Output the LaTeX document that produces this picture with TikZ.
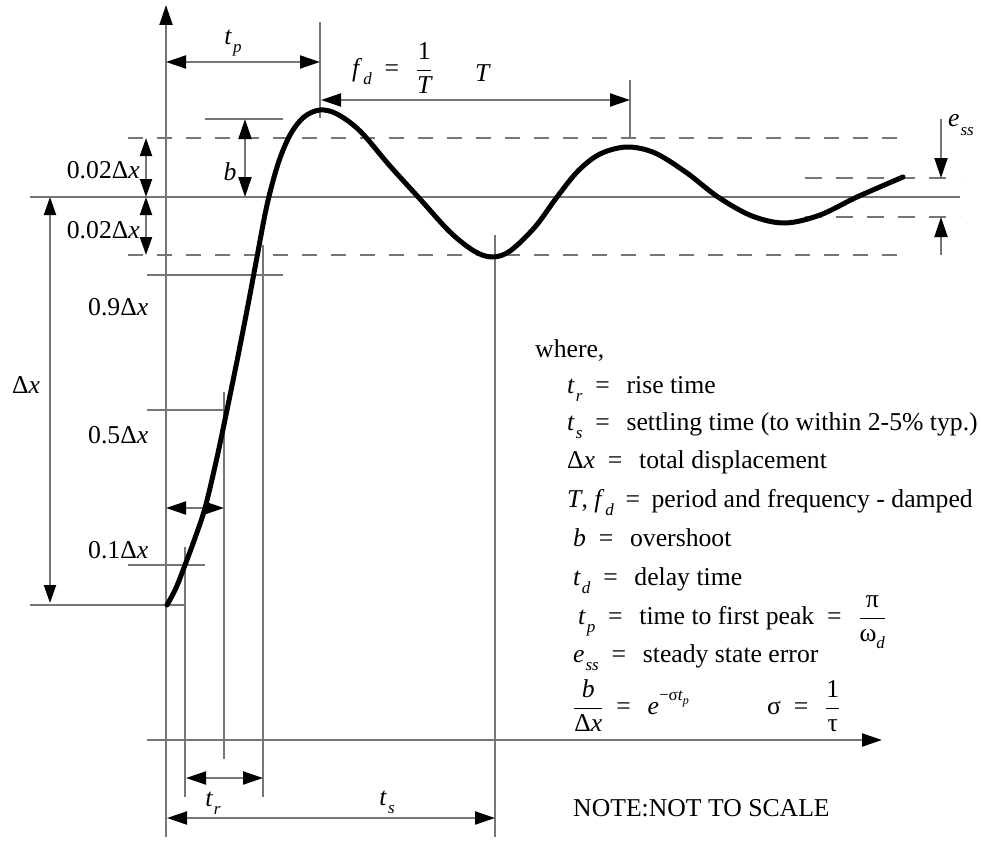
\documentclass[tikz,border=0pt]{standalone}
\usepackage{fontspec}
\setmainfont{Liberation Serif}
\usetikzlibrary{arrows.meta}
\definecolor{ln}{RGB}{118,118,118}
\newcommand\sbi[2]{\textit{#1}\kern1pt\raisebox{-0.32em}{\fontsize{17}{17}\selectfont\textit{#2}}}
\newcommand\eqs{\hspace{0.5em}=\hspace{0.65em}}
\newcommand\tfr[2]{$\displaystyle\frac{\mbox{#1}}{\mbox{#2}}$}
\begin{document}
\begin{tikzpicture}[x=1pt,y=-1pt,
  >={Triangle[length=20pt,width=13pt,color=black]},
  gl/.style={draw=ln,line width=2pt},
  dl/.style={draw=ln,line width=2.4pt,dash pattern=on 15pt off 14pt},
  txt/.style={inner sep=0pt,font=\fontsize{25.7}{30}\selectfont},
  curve/.style={line width=5pt,line cap=round,line join=round}]
\useasboundingbox (0,0) rectangle (981,840);
% reference lines
\draw[gl] (30,197) -- (960,197);
\draw[dl] (128,138) -- (902,138);
\draw[dl] (128,255) -- (902,255);
\draw[dl,dash pattern=on 17pt off 14pt] (805,178) -- (960,178);
\draw[dl,dash pattern=on 17pt off 14pt] (805,217) -- (960,217);
% axes
\draw[gl,->] (166,837) -- (166,5);
\draw[gl,->] (147,740) -- (882,740);
% extension lines
\draw[gl] (185,547) -- (185,797);
\draw[gl] (224,392) -- (224,759);
\draw[gl] (263,245) -- (263,797);
\draw[gl] (495,235) -- (495,837);
\draw[gl] (320,22) -- (320,118);
\draw[gl] (630,80) -- (630,138);
\draw[gl] (205,119) -- (283,119);
\draw[gl] (147,275) -- (283,275);
\draw[gl] (147,410) -- (225,410);
\draw[gl] (128,565) -- (205,565);
\draw[gl] (30,605) -- (185,605);
% dimension arrows
\draw[gl,<->] (166,62) -- (320,62);
\draw[gl,<->] (321,100) -- (630,100);
\draw[gl,<->] (245,119) -- (245,197);
\draw[gl,<->,>={Triangle[length=18pt,width=12pt,color=black]}] (146,138) -- (146,197);
\draw[gl,<->,>={Triangle[length=18pt,width=12pt,color=black]}] (146,197) -- (146,255);
\draw[gl,<->,>={Triangle[length=18pt,width=12pt,color=black]}] (50,197) -- (50,603);
\draw[gl,<->] (166,508) -- (224,508);
\draw[gl,<->] (186,778) -- (263,778);
\draw[gl,<->] (167,818) -- (495,818);
\draw[gl,->] (941,119) -- (941,178);
\draw[gl,->] (941,255) -- (941,217);
% response curve
\draw[curve] plot[smooth,tension=0.55] coordinates {
 (167,605) (176,588) (185,565) (195,538) (205,508) (216,462) (227,410)
 (238,356) (248,305) (257,257) (267,205) (278,164) (290,135) (304,117)
 (320,110) (337,114) (360,131) (390,166) (420,199) (450,232) (474,251)
 (492,257) (510,251) (535,227) (557,197) (578,171) (600,154) (627,147)
 (655,153) (687,173) (718,197) (752,216) (785,223) (820,215) (857,197) (903,177)};
% labels on the graph
\node[txt] (ltp) at (233,43) {\sbi{t}{p}};
\node[txt,anchor=west] (lfd) at (352,68) {\sbi{f}{d}\eqs\tfr{1}{\itshape T}};
\node[txt] (lT) at (483,73) {\textit{T}};
\node[txt] (lb) at (230,172) {\textit{b}};
\node[txt,anchor=west] (less) at (948,125) {\sbi{e}{ss}};
\node[txt,anchor=east] (l02a) at (140,170) {0.02Δ\textit{x}};
\node[txt,anchor=east] (l02b) at (140,230) {0.02Δ\textit{x}};
\node[txt,anchor=west] (l09) at (88,307) {0.9Δ\textit{x}};
\node[txt,anchor=west] (l05) at (88,435) {0.5Δ\textit{x}};
\node[txt,anchor=west] (l01) at (88,550) {0.1Δ\textit{x}};
\node[txt] (ldx) at (26,385) {Δ\textit{x}};
\node[txt] (ltr) at (213,803) {\sbi{t}{r}};
\node[txt] (lts) at (387,802) {\sbi{t}{s}};
\node[txt,anchor=west] (note) at (573,808) {NOTE:NOT TO SCALE};
% legend
\node[txt,anchor=base west] (w) at (535,357) {where,};
\node[txt,anchor=base west] (g1) at (567,393) {\sbi{t}{r}\eqs rise time};
\node[txt,anchor=base west] (g2) at (567,430) {\sbi{t}{s}\eqs settling time (to within 2-5\% typ.)};
\node[txt,anchor=base west] (g3) at (567,468) {Δ\textit{x}\eqs total displacement};
\node[txt,anchor=base west] (g4) at (567,507) {\textit{T}, \sbi{f}{d}\hspace{0.45em}=\hspace{0.45em}period and frequency - damped};
\node[txt,anchor=base west] (g5) at (573,546) {\textit{b}\eqs overshoot};
\node[txt,anchor=base west] (g6) at (573,585) {\sbi{t}{d}\eqs delay time};
\node[txt,anchor=base west] (g7) at (578,624) {\sbi{t}{p}\eqs time to first peak\eqs\tfr{π}{ω\raisebox{-0.3em}{\fontsize{17}{17}\selectfont\textit{d}}}};
\node[txt,anchor=base west] (g8) at (573,662) {\sbi{e}{ss}\eqs steady state error};
\node[txt,anchor=west] (g9) at (573,706) {\tfr{\itshape b}{Δ\itshape x}\eqs\textit{e}\raisebox{0.55em}{\fontsize{17}{17}\selectfont −σ\textit{t}\raisebox{-0.2em}{\fontsize{12}{12}\selectfont\textit{p}}}};
\node[txt,anchor=west] (g10) at (767,706) {σ\eqs\tfr{1}{τ}};
\end{tikzpicture}
\end{document}
